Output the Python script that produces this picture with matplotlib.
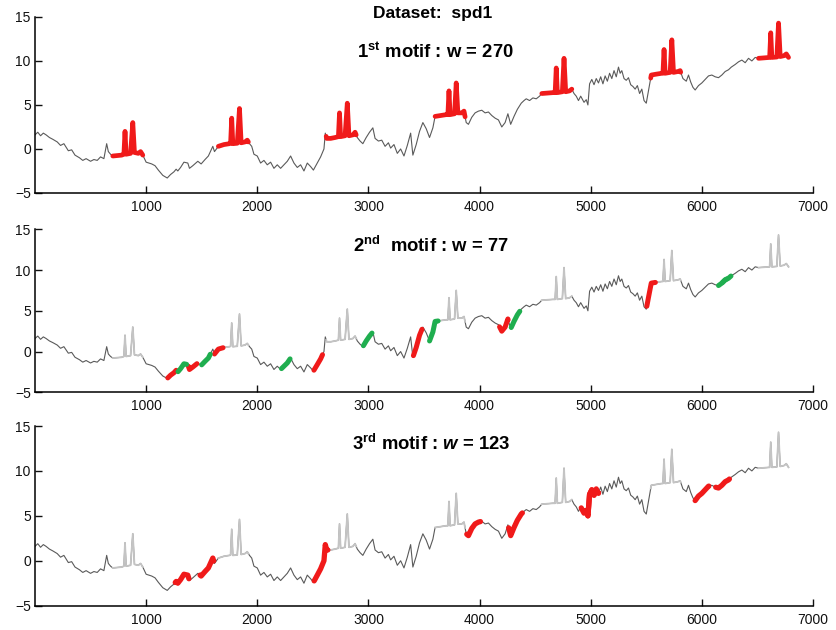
import numpy as np
import matplotlib
matplotlib.use("Agg")
import matplotlib.pyplot as plt

plt.rcParams['font.family'] = ['Liberation Sans', 'DejaVu Sans']
plt.rcParams['mathtext.fontset'] = 'custom'
plt.rcParams['mathtext.bf'] = 'Liberation Sans:bold'
plt.rcParams['mathtext.rm'] = 'Liberation Sans'
plt.rcParams['mathtext.it'] = 'Liberation Sans:italic:bold'

# ---- data (sample index, value) ----
series_x = [0, 25, 50, 75, 100, 130, 160, 200, 230, 260, 300, 330, 360, 400, 430, 460, 500, 530, 560, 590,
            620, 645, 660, 680, 700, 740, 780, 800, 810, 820, 860, 880, 895, 930, 950, 970, 1000, 1050, 1080,
            1110, 1150, 1190, 1220, 1250, 1270, 1285, 1310, 1340, 1375, 1390, 1420, 1465, 1495, 1530, 1560,
            1600, 1615, 1650, 1700, 1750, 1760, 1770, 1780, 1820, 1840, 1855, 1890, 1910, 1930, 1950, 1970,
            2000, 2030, 2060, 2090, 2120, 2150, 2180, 2210, 2240, 2270, 2300, 2330, 2360, 2390, 2420, 2450,
            2480, 2505, 2540, 2570, 2600, 2612, 2625, 2660, 2700, 2730, 2740, 2750, 2790, 2810, 2825, 2860,
            2880, 2900, 2925, 2950, 2980, 3010, 3040, 3060, 3090, 3120, 3150, 3180, 3200, 3230, 3260, 3290,
            3320, 3350, 3380, 3400, 3430, 3460, 3490, 3520, 3550, 3580, 3600, 3650, 3700, 3715, 3725, 3735,
            3775, 3790, 3805, 3840, 3860, 3880, 3900, 3930, 3960, 3990, 4020, 4050, 4080, 4110, 4140, 4170,
            4200, 4230, 4255, 4280, 4310, 4340, 4375, 4400, 4420, 4450, 4480, 4510, 4540, 4560, 4610, 4660,
            4680, 4690, 4700, 4745, 4760, 4775, 4810, 4830, 4850, 4870, 4890, 4910, 4940, 4960, 4975, 4990,
            5010, 5030, 5050, 5070, 5090, 5110, 5130, 5150, 5170, 5190, 5210, 5230, 5250, 5265, 5280, 5300,
            5320, 5340, 5360, 5380, 5400, 5420, 5440, 5460, 5480, 5500, 5525, 5545, 5590, 5640, 5650, 5660,
            5670, 5715, 5730, 5745, 5785, 5805, 5830, 5860, 5880, 5900, 5920, 5940, 5970, 6000, 6030, 6060,
            6090, 6120, 6150, 6180, 6210, 6240, 6265, 6300, 6330, 6360, 6390, 6420, 6450, 6480, 6510, 6560,
            6610, 6620, 6630, 6675, 6690, 6705, 6740, 6760, 6780]
series_y = [1.6, 1.9, 1.5, 1.8, 1.6, 1.3, 1.1, 0.8, 0.4, 0.6, -0.2, -0.1, -0.7, -1.0, -1.3, -1.1, -1.4, -1.2, -1.3, -0.9,
            -1.1, 0.6, -0.3, -0.6, -0.8, -0.75, -0.7, -0.6, 2.0, -0.6, -0.5, 3.0, -0.4, -0.5, -0.3, -0.7, -1.5, -1.7, -1.9,
            -2.4, -3.0, -3.3, -2.9, -2.6, -2.3, -2.5, -2.1, -1.5, -1.6, -2.2, -1.9, -1.4, -1.7, -1.2, -0.8,
            0.3, -0.3, 0.3, 0.5, 0.6, 0.65, 3.5, 0.6, 0.65, 4.6, 0.7, 0.8, 1.0, 0.6, 0.3, -0.6,
            -0.8, -1.6, -1.3, -1.8, -1.5, -2.2, -1.8, -2.2, -1.8, -1.4, -0.8, -1.6, -2.1, -1.8, -2.5, -1.6,
            -2.0, -2.4, -1.6, -0.9, 0.0, 1.8, 1.2, 1.2, 1.3, 1.4, 4.1, 1.4, 1.5, 5.2, 1.5, 1.6,
            1.9, 1.3, 0.9, 0.6, 1.3, 1.9, 2.4, 1.2, 0.9, 1.0, 0.3, 0.7, 0.1, 0.5, -0.5, 0.0,
            -0.8, 0.4, 1.8, -0.7, 0.5, 2.0, 3.0, 2.3, 1.3, 2.4, 3.7, 3.8, 3.9, 3.9, 6.6, 3.9,
            4.0, 7.5, 4.1, 4.1, 4.3, 3.0, 2.8, 3.6, 4.1, 4.3, 4.4, 4.1, 4.2, 3.8, 3.5, 3.3,
            2.5, 3.0, 4.0, 2.8, 3.7, 4.5, 5.2, 5.5, 5.7, 5.5, 5.8, 5.7, 6.0, 6.3, 6.35, 6.4,
            6.4, 9.2, 6.4, 6.5, 10.3, 6.5, 6.6, 6.8, 6.3, 6.0, 5.5, 6.0, 5.3, 5.6, 5.0, 7.4,
            7.9, 7.3, 8.0, 7.5, 8.2, 7.4, 8.3, 7.7, 8.6, 8.0, 8.9, 8.2, 9.3, 8.6, 8.9, 8.0,
            7.8, 8.1, 7.3, 7.1, 6.8, 7.2, 6.3, 6.8, 5.5, 5.2, 7.0, 8.4, 8.5, 8.6, 8.6, 11.3,
            8.6, 8.7, 12.4, 8.7, 8.8, 8.9, 8.0, 7.7, 8.4, 7.6, 7.0, 6.7, 7.2, 7.5, 7.9, 8.3,
            8.4, 8.2, 8.1, 8.4, 8.8, 9.0, 9.3, 9.6, 9.9, 10.1, 9.8, 10.3, 10.0, 10.4, 10.3, 10.35,
            10.4, 13.2, 10.4, 10.45, 14.3, 10.5, 10.6, 10.8, 10.4]

motif1_w = 270
motif1_starts = [700, 1650, 2620, 3600, 4560, 5540, 6510]
motif2_w = 77
motif2_red = [1195, 1380, 1615, 2510, 3405, 4180, 5505]
motif2_green = [1287, 1500, 2218, 2955, 3550, 4285, 6150, 6185]
motif3_w = 123
motif3_red = [1262, 1485, 2512, 3885, 4262, 4915, 4948, 5940, 6125]

x_ticks = [1000, 2000, 3000, 4000, 5000, 6000, 7000]
y_ticks = [-5, 0, 5, 10, 15]

sx = np.array(series_x, dtype=float)
sy = np.array(series_y, dtype=float)

RED = '#f01a1a'
GREEN = '#1fae4f'
DARK = '#5a5a5a'
LIGHT = '#c4c4c4'


def segment(s, w):
    m = (sx > s) & (sx < s + w)
    xs = np.concatenate([[s], sx[m], [s + w]])
    ys = np.concatenate([[np.interp(s, sx, sy)], sy[m], [np.interp(s + w, sx, sy)]])
    return xs, ys


def style(ax):
    ax.set_xlim(0, 7000)
    ax.set_ylim(-5, 15)
    ax.set_xticks(x_ticks)
    ax.set_yticks(y_ticks)
    for sp in ['top', 'right']:
        ax.spines[sp].set_visible(False)
    for sp in ['left', 'bottom']:
        ax.spines[sp].set_linewidth(1.1)
    ax.tick_params(direction='in', length=5, width=1.0, labelsize=10, colors='#111111')
    ax.tick_params(axis='x', pad=5)
    ax.tick_params(axis='y', pad=3)
    ax.patch.set_alpha(0)


fig = plt.figure(figsize=(8.37, 6.30), dpi=100)
ax1 = fig.add_axes([0.0418, 0.6937, 0.9295, 0.2794])
ax2 = fig.add_axes([0.0418, 0.3773, 0.9295, 0.2587])
ax3 = fig.add_axes([0.0418, 0.0386, 0.9295, 0.2852])

# panel 1
ax1.plot(sx, sy, color=DARK, lw=0.8)
for s in motif1_starts:
    xs, ys = segment(s, motif1_w)
    ax1.plot(xs, ys, color=RED, lw=3.4, solid_capstyle='round', solid_joinstyle='round')

# panels 2 and 3
for ax in (ax2, ax3):
    ax.plot(sx, sy, color=DARK, lw=0.8)
    for s in motif1_starts:
        xs, ys = segment(s, motif1_w)
        ax.plot(xs, ys, color=LIGHT, lw=1.3)

for s in motif2_red:
    xs, ys = segment(s, motif2_w)
    ax2.plot(xs, ys, color=RED, lw=3.6, solid_capstyle='round')
for s in motif2_green:
    xs, ys = segment(s, motif2_w)
    ax2.plot(xs, ys, color=GREEN, lw=3.6, solid_capstyle='round')
for s in motif3_red:
    xs, ys = segment(s, motif3_w)
    ax3.plot(xs, ys, color=RED, lw=3.8, solid_capstyle='round')

for ax in (ax1, ax2, ax3):
    style(ax)

fig.text(0.517, 0.978, 'Dataset:  spd1', ha='center', va='center', fontsize=12.5, fontweight='bold')
fig.text(0.52, 0.917, r'$\mathbf{1^{st}}$ motif : w = 270', ha='center', va='center', fontsize=13.3, fontweight='bold')
fig.text(0.515, 0.6095, r'$\mathbf{2^{nd}}$  motif : w = 77', ha='center', va='center', fontsize=13.3, fontweight='bold')
fig.text(0.515, 0.295, r'$\mathbf{3^{rd}}$ motif : $\mathit{w}$ = 123', ha='center', va='center', fontsize=13.3, fontweight='bold')

fig.savefig('out.png', dpi=100)
